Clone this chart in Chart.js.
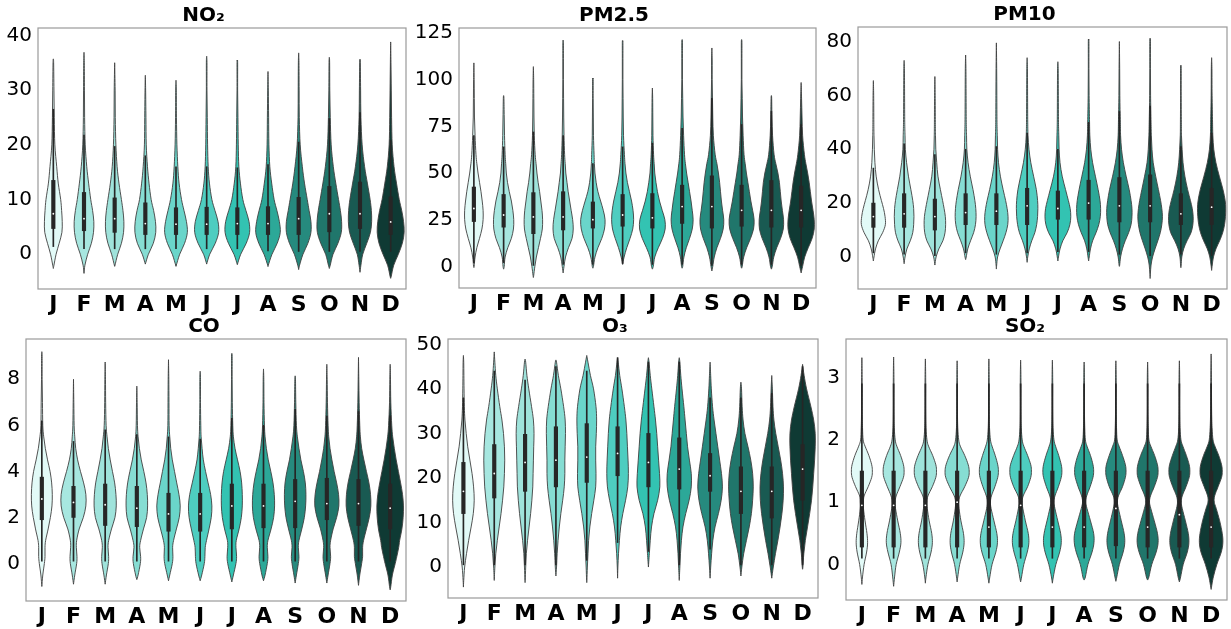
<!DOCTYPE html>
<html lang="en">
<head>
    <meta charset="UTF-8">
    <title>Monthly pollutant distributions</title>
    <style>
        body {
            margin: 0;
            background-color: #ffffff;
        }
        #wrap {
            position: relative;
            width: 1231px;
            height: 629px;
            overflow: hidden;
        }
        canvas {
            position: absolute;
        }
    </style>
</head>
<body>
<div id="wrap">
    <canvas id="no2"></canvas>
    <canvas id="pm25"></canvas>
    <canvas id="pm10"></canvas>
    <canvas id="co"></canvas>
    <canvas id="o3"></canvas>
    <canvas id="so2"></canvas>
</div>

<script src="https://cdn.jsdelivr.net/npm/chart.js"></script>
<script>
    const months = ['J', 'F', 'M', 'A', 'M', 'J', 'J', 'A', 'S', 'O', 'N', 'D'];
    const monthColors = ['#e2faf7', '#a7e7e0', '#9fe3db', '#86ddd3', '#6ad5ca', '#4ecdc0',
                         '#33c3b2', '#2ca898', '#268a7e', '#20766b', '#195a52', '#0f3a34'];

    // ---- NO2 ----
    const no2Ticks = [0, 10, 20, 30, 40];
    const no2Levels = [-4, -2, 0, 2, 4, 6, 8, 10, 13, 16, 20, 25, 30, 35];
    const no2Widths = [
        [null, 0.02, 0.09, 0.19, 0.28, 0.29, 0.27, 0.24, 0.16, 0.11, 0.05, 0.03, 0.02, 0.01],
        [null, 0.03, 0.12, 0.24, 0.31, 0.32, 0.28, 0.22, 0.15, 0.09, 0.04, 0.02, 0.015, 0.01],
        [null, 0.01, 0.10, 0.22, 0.29, 0.30, 0.27, 0.22, 0.14, 0.08, 0.04, 0.02, 0.015, null],
        [null, null, 0.10, 0.26, 0.34, 0.33, 0.27, 0.19, 0.12, 0.07, 0.03, 0.02, 0.01, null],
        [null, 0.01, 0.12, 0.28, 0.37, 0.34, 0.26, 0.18, 0.10, 0.06, 0.03, 0.015, 0.01, null],
        [null, null, 0.10, 0.28, 0.39, 0.37, 0.27, 0.17, 0.09, 0.05, 0.03, 0.02, 0.01, 0.01],
        [null, null, 0.11, 0.29, 0.40, 0.38, 0.28, 0.18, 0.10, 0.05, 0.03, 0.02, 0.01, 0.01],
        [null, 0.01, 0.13, 0.30, 0.40, 0.37, 0.29, 0.20, 0.12, 0.06, 0.03, 0.02, 0.01, null],
        [null, 0.03, 0.14, 0.30, 0.40, 0.40, 0.34, 0.28, 0.19, 0.12, 0.05, 0.02, 0.015, 0.01],
        [null, 0.03, 0.12, 0.28, 0.39, 0.40, 0.36, 0.30, 0.21, 0.13, 0.06, 0.03, 0.015, 0.01],
        [null, 0.03, 0.09, 0.22, 0.34, 0.38, 0.37, 0.33, 0.24, 0.15, 0.07, 0.03, 0.02, 0.01],
        [0.02, 0.10, 0.25, 0.38, 0.44, 0.42, 0.36, 0.28, 0.19, 0.11, 0.05, 0.03, 0.02, 0.01]
    ];
    const no2Lo = [-2.6, -3.5, -2.1, -1.8, -2.1, -1.8, -1.9, -2.2, -2.8, -2.6, -3.3, -4.4];
    const no2Hi = [35.7, 36.9, 35.0, 32.7, 31.8, 36.2, 35.3, 33.4, 36.8, 36.0, 35.6, 38.8];
    const no2Q1 = [4.7, 4.3, 4.0, 3.6, 3.6, 3.6, 3.6, 3.6, 3.6, 4.1, 4.7, 3.6];
    const no2Q3 = [13.5, 11.3, 10.3, 9.4, 8.5, 8.6, 8.5, 8.7, 10.4, 12.4, 13.2, 10.5];
    const no2Med = [7.4, 6.5, 6.5, 5.6, 5.5, 5.5, 5.6, 5.6, 6.5, 7.4, 7.4, 5.9];
    const no2WhisLo = [1.4, 1.0, 1.0, 1.0, 1.0, 1.0, 1.0, 0.6, 0.5, 0.5, 0.5, 0.5];
    const no2WhisHi = [26.5, 21.8, 19.7, 18.0, 16.0, 16.0, 15.8, 16.4, 20.5, 24.8, 25.9, 20.8];

    // ---- PM2.5 ----
    const pm25Ticks = [0, 25, 50, 75, 100, 125];
    const pm25Levels = [-5, 0, 5, 10, 15, 20, 25, 30, 35, 40, 45, 50, 55, 60, 70, 80, 90, 100, 110, 120];
    const pm25Widths = [
        [null, 0.01, 0.04, 0.10, 0.19, 0.27, 0.31, 0.31, 0.28, 0.24, 0.19, 0.14, 0.10, 0.07, 0.04, 0.02, 0.015, 0.01, null, null],
        [null, 0.02, 0.05, 0.14, 0.26, 0.33, 0.34, 0.31, 0.26, 0.19, 0.13, 0.09, 0.07, 0.05, 0.03, 0.02, 0.01, null, null, null],
        [0.01, 0.05, 0.10, 0.17, 0.24, 0.30, 0.31, 0.29, 0.25, 0.21, 0.16, 0.12, 0.09, 0.06, 0.03, 0.02, 0.015, 0.01, null, null],
        [null, 0.03, 0.08, 0.18, 0.30, 0.34, 0.32, 0.27, 0.22, 0.17, 0.13, 0.09, 0.07, 0.05, 0.03, 0.02, 0.015, 0.01, 0.01, 0.01],
        [null, 0.02, 0.07, 0.17, 0.30, 0.39, 0.41, 0.35, 0.26, 0.17, 0.11, 0.07, 0.05, 0.04, 0.02, 0.015, 0.01, 0.01, null, null],
        [null, null, 0.05, 0.14, 0.25, 0.34, 0.37, 0.35, 0.30, 0.23, 0.16, 0.11, 0.08, 0.06, 0.03, 0.02, 0.015, 0.01, 0.01, 0.01],
        [null, 0.03, 0.08, 0.20, 0.34, 0.43, 0.42, 0.33, 0.24, 0.17, 0.12, 0.08, 0.06, 0.04, 0.02, 0.015, 0.01, null, null, null],
        [null, 0.02, 0.06, 0.14, 0.25, 0.34, 0.37, 0.34, 0.30, 0.25, 0.20, 0.15, 0.11, 0.08, 0.05, 0.03, 0.02, 0.01, 0.01, 0.01],
        [null, 0.03, 0.08, 0.17, 0.29, 0.38, 0.40, 0.36, 0.32, 0.29, 0.26, 0.22, 0.17, 0.11, 0.05, 0.03, 0.02, 0.01, 0.01, null],
        [null, 0.02, 0.07, 0.17, 0.30, 0.40, 0.42, 0.37, 0.31, 0.26, 0.21, 0.16, 0.12, 0.08, 0.05, 0.03, 0.02, 0.01, 0.01, 0.01],
        [null, 0.03, 0.08, 0.18, 0.31, 0.40, 0.41, 0.37, 0.33, 0.30, 0.27, 0.22, 0.15, 0.09, 0.04, 0.02, 0.01, null, null, null],
        [null, 0.05, 0.12, 0.24, 0.37, 0.44, 0.44, 0.40, 0.35, 0.31, 0.27, 0.22, 0.16, 0.11, 0.05, 0.03, 0.015, null, null, null]
    ];
    const pm25Lo = [-0.5, -1.5, -6, -3.5, -1, 1, -1.5, -1, -2.5, -1, -1.5, -3.5];
    const pm25Hi = [109, 91.5, 107, 121, 100.5, 120.5, 95.5, 121.5, 117, 121.5, 91.5, 98.5];
    const pm25Q1 = [24, 21, 17.5, 19.5, 20.5, 21.5, 20.5, 23, 20.5, 21.5, 21, 21];
    const pm25Q3 = [42.5, 38.5, 39.5, 40, 34.5, 38.5, 39, 43.5, 48.5, 43.5, 46, 43];
    const pm25Med = [31, 27.5, 26.5, 26.5, 25, 27.5, 26, 32, 32, 30, 30, 30];
    const pm25WhisLo = [2, 2, 0.5, 1, 1, 1.5, 1, 1, 0.5, 1, 1, 0.5];
    const pm25WhisHi = [70, 64, 72, 70, 55, 64, 66, 74, 90, 76, 83, 76];

    // ---- PM10 ----
    const pm10Ticks = [0, 20, 40, 60, 80];
    const pm10Levels = [-6, -3, 0, 3, 6, 9, 12, 15, 18, 21, 25, 30, 35, 40, 45, 50, 60, 70, 80];
    const pm10Widths = [
        [null, null, 0.02, 0.07, 0.16, 0.30, 0.39, 0.38, 0.33, 0.26, 0.17, 0.09, 0.05, 0.03, 0.02, 0.015, 0.01, null, null],
        [null, null, 0.03, 0.09, 0.20, 0.28, 0.31, 0.32, 0.31, 0.28, 0.22, 0.14, 0.08, 0.04, 0.03, 0.02, 0.015, 0.01, null],
        [null, null, 0.04, 0.13, 0.26, 0.33, 0.35, 0.34, 0.30, 0.25, 0.18, 0.10, 0.06, 0.03, 0.02, 0.015, 0.01, null, null],
        [null, null, 0.02, 0.07, 0.16, 0.26, 0.32, 0.34, 0.33, 0.30, 0.24, 0.15, 0.08, 0.04, 0.03, 0.02, 0.015, 0.01, null],
        [null, 0.01, 0.04, 0.12, 0.22, 0.31, 0.37, 0.38, 0.35, 0.30, 0.22, 0.13, 0.07, 0.04, 0.03, 0.02, 0.015, 0.01, null],
        [null, null, 0.02, 0.07, 0.15, 0.25, 0.31, 0.34, 0.35, 0.34, 0.30, 0.21, 0.12, 0.06, 0.03, 0.02, 0.015, 0.01, null],
        [null, null, 0.02, 0.07, 0.16, 0.30, 0.39, 0.42, 0.40, 0.34, 0.25, 0.14, 0.07, 0.04, 0.03, 0.02, 0.015, 0.01, null],
        [null, null, 0.02, 0.06, 0.13, 0.24, 0.33, 0.38, 0.39, 0.37, 0.31, 0.22, 0.13, 0.07, 0.04, 0.03, 0.015, 0.01, 0.01],
        [null, 0.01, 0.04, 0.10, 0.19, 0.30, 0.38, 0.41, 0.41, 0.38, 0.32, 0.22, 0.13, 0.07, 0.04, 0.03, 0.015, 0.01, null],
        [0.01, 0.03, 0.08, 0.16, 0.25, 0.33, 0.38, 0.40, 0.38, 0.34, 0.27, 0.18, 0.10, 0.06, 0.04, 0.03, 0.015, 0.01, 0.01],
        [null, 0.01, 0.03, 0.09, 0.20, 0.33, 0.39, 0.40, 0.37, 0.31, 0.22, 0.13, 0.07, 0.04, 0.02, 0.015, 0.01, 0.01, null],
        [null, 0.02, 0.06, 0.14, 0.26, 0.36, 0.42, 0.45, 0.46, 0.44, 0.37, 0.25, 0.14, 0.07, 0.04, 0.03, 0.015, 0.01, null]
    ];
    const pm10Lo = [-1.5, -2.5, -3, -1, -4.5, -2, -1.5, -1.5, -3.5, -8, -4, -5];
    const pm10Hi = [65.5, 73, 67, 75, 79.5, 74, 72.5, 80.5, 80, 81, 71, 74];
    const pm10Q1 = [11, 11, 10, 12, 12, 12, 14, 14, 13, 13, 12, 12];
    const pm10Q3 = [20, 23.5, 21.5, 23.5, 23.5, 25.5, 24.5, 28.5, 29.5, 30.5, 23.5, 25.5];
    const pm10Med = [15, 16, 15, 16.5, 17, 19, 18, 20, 19, 19, 16, 18.5];
    const pm10WhisLo = [1.5, 1, 0.5, 1.5, 1, 1.5, 2, 2, 1, 0.5, 1, 0.5];
    const pm10WhisHi = [33, 42, 38, 40, 41, 46, 40, 50, 54, 56, 41, 46];

    // ---- CO ----
    const coTicks = [0, 2, 4, 6, 8];
    const coLevels = [-1, -0.5, 0, 0.3, 0.7, 1, 1.5, 2, 2.5, 3, 3.5, 4, 4.5, 5, 5.5, 6, 7, 8, 9];
    const coWidths = [
        [null, 0.03, 0.08, 0.10, 0.10, 0.12, 0.20, 0.27, 0.32, 0.33, 0.31, 0.26, 0.18, 0.11, 0.06, 0.03, 0.02, 0.01, 0.01],
        [null, 0.04, 0.10, 0.11, 0.09, 0.10, 0.18, 0.31, 0.39, 0.39, 0.32, 0.22, 0.13, 0.07, 0.04, 0.02, 0.01, null, null],
        [null, 0.04, 0.10, 0.11, 0.09, 0.11, 0.20, 0.31, 0.35, 0.34, 0.30, 0.23, 0.16, 0.10, 0.06, 0.03, 0.015, 0.01, null],
        [null, 0.04, 0.11, 0.12, 0.09, 0.12, 0.21, 0.31, 0.34, 0.33, 0.29, 0.22, 0.14, 0.08, 0.04, 0.02, 0.01, null, null],
        [null, 0.04, 0.12, 0.14, 0.13, 0.16, 0.25, 0.34, 0.37, 0.33, 0.26, 0.19, 0.12, 0.07, 0.04, 0.02, 0.015, 0.01, null],
        [null, 0.05, 0.13, 0.15, 0.16, 0.20, 0.28, 0.35, 0.37, 0.33, 0.25, 0.17, 0.10, 0.06, 0.03, 0.02, 0.01, 0.01, null],
        [null, 0.05, 0.13, 0.15, 0.13, 0.14, 0.23, 0.30, 0.33, 0.33, 0.31, 0.26, 0.18, 0.10, 0.05, 0.03, 0.015, 0.01, 0.01],
        [null, 0.05, 0.12, 0.14, 0.12, 0.14, 0.24, 0.32, 0.35, 0.34, 0.30, 0.23, 0.15, 0.09, 0.05, 0.03, 0.015, 0.01, null],
        [null, 0.04, 0.10, 0.12, 0.10, 0.12, 0.21, 0.29, 0.33, 0.34, 0.32, 0.26, 0.18, 0.12, 0.07, 0.04, 0.02, 0.01, null],
        [null, 0.04, 0.10, 0.12, 0.10, 0.12, 0.20, 0.31, 0.38, 0.37, 0.31, 0.23, 0.16, 0.10, 0.06, 0.04, 0.02, 0.01, null],
        [null, 0.04, 0.10, 0.13, 0.13, 0.16, 0.25, 0.34, 0.39, 0.38, 0.33, 0.25, 0.17, 0.10, 0.06, 0.04, 0.02, 0.01, null],
        [0.02, 0.07, 0.16, 0.21, 0.27, 0.30, 0.37, 0.41, 0.42, 0.39, 0.33, 0.26, 0.19, 0.13, 0.08, 0.05, 0.02, 0.01, null]
    ];
    const coLo = [-1, -0.9, -0.9, -0.7, -0.75, -0.75, -0.8, -0.75, -0.85, -0.85, -0.95, -1.15];
    const coHi = [9.2, 8, 8.75, 7.7, 8.85, 8.35, 9.1, 8.45, 8.15, 8.65, 8.95, 8.65];
    const coQ1 = [1.9, 2.0, 1.65, 1.6, 1.4, 1.4, 1.5, 1.55, 1.55, 1.9, 1.65, 1.5];
    const coQ3 = [3.75, 3.35, 3.45, 3.35, 3.05, 3.05, 3.45, 3.45, 3.65, 3.7, 3.65, 3.45];
    const coMed = [2.8, 2.65, 2.55, 2.4, 2.15, 2.15, 2.5, 2.5, 2.7, 2.6, 2.6, 2.4];
    const coWhisLo = [0.1, 0.1, 0.1, 0.1, 0.1, 0.1, 0.1, 0.1, 0.1, 0.1, 0.1, 0.1];
    const coWhisHi = [6.2, 5.3, 5.8, 5.6, 5.5, 5.4, 6.3, 6.0, 6.7, 6.4, 6.6, 6.4];

    // ---- O3 ----
    const o3Ticks = [0, 10, 20, 30, 40, 50];
    const o3Levels = [-3, 0, 3, 6, 9, 12, 15, 18, 21, 24, 27, 30, 33, 36, 40, 43, 46];
    const o3Widths = [
        [0.01, 0.04, 0.10, 0.17, 0.25, 0.32, 0.35, 0.33, 0.28, 0.21, 0.14, 0.09, 0.05, 0.03, 0.02, 0.015, 0.01],
        [null, 0.02, 0.05, 0.10, 0.16, 0.22, 0.27, 0.31, 0.33, 0.34, 0.33, 0.30, 0.25, 0.18, 0.10, 0.05, 0.02],
        [0.005, 0.02, 0.04, 0.08, 0.13, 0.18, 0.22, 0.25, 0.26, 0.27, 0.28, 0.29, 0.27, 0.21, 0.12, 0.06, 0.02],
        [null, 0.02, 0.04, 0.07, 0.11, 0.16, 0.22, 0.27, 0.29, 0.29, 0.30, 0.31, 0.30, 0.25, 0.16, 0.08, 0.02],
        [0.005, 0.02, 0.04, 0.06, 0.10, 0.16, 0.23, 0.29, 0.30, 0.29, 0.29, 0.31, 0.32, 0.30, 0.22, 0.12, 0.04],
        [null, 0.01, 0.03, 0.06, 0.10, 0.17, 0.26, 0.33, 0.35, 0.34, 0.32, 0.30, 0.27, 0.22, 0.14, 0.07, 0.02],
        [null, null, 0.03, 0.06, 0.10, 0.18, 0.30, 0.37, 0.36, 0.33, 0.30, 0.27, 0.23, 0.18, 0.11, 0.06, 0.02],
        [null, 0.02, 0.04, 0.07, 0.12, 0.21, 0.32, 0.39, 0.39, 0.33, 0.27, 0.23, 0.19, 0.15, 0.09, 0.05, 0.02],
        [null, 0.02, 0.05, 0.09, 0.16, 0.27, 0.36, 0.40, 0.37, 0.31, 0.25, 0.19, 0.13, 0.08, 0.04, 0.02, null],
        [null, 0.03, 0.09, 0.18, 0.27, 0.34, 0.38, 0.40, 0.38, 0.32, 0.23, 0.13, 0.07, 0.04, 0.02, null, null],
        [null, 0.05, 0.12, 0.20, 0.27, 0.33, 0.37, 0.38, 0.35, 0.29, 0.21, 0.13, 0.07, 0.04, 0.02, null, null],
        [null, 0.01, 0.04, 0.09, 0.16, 0.23, 0.29, 0.33, 0.36, 0.39, 0.41, 0.41, 0.36, 0.27, 0.13, 0.05, null]
    ];
    const o3Lo = [-4.5, -3, -3.5, -2, -3.5, -2.5, 0, -3, -2.5, -2, -2.5, -0.5];
    const o3Hi = [47.5, 48.3, 46.7, 46.5, 47.5, 47, 47, 47, 46, 41.5, 43, 45.5];
    const o3Q1 = [12, 15.5, 17, 18, 19, 20.5, 18, 17.5, 17, 12, 11, 15];
    const o3Q3 = [23.5, 27.5, 29.8, 31.5, 32.2, 31.5, 30, 29, 25.5, 22.5, 22.5, 27.5];
    const o3Med = [17, 21, 23.5, 24, 24.7, 25.5, 23.5, 22, 20.5, 17, 17, 22];
    const o3WhisLo = [0.5, 0.5, 0.5, 0.5, 1.5, 5.5, 3.5, 0.5, 4, 0.5, 0.5, 0.5];
    const o3WhisHi = [38, 44, 42, 45, 44, 47, 46, 46, 38, 38, 39, 45];

    // ---- SO2 ----
    const so2Ticks = [0, 1, 2, 3];
    const so2Levels = [-0.2, 0, 0.2, 0.35, 0.5, 0.7, 0.9, 1.0, 1.1, 1.25, 1.4, 1.5, 1.6, 1.75, 1.9, 2.0, 2.2, 2.5, 3.0];
    const so2Widths = [
        [0.02, 0.07, 0.15, 0.18, 0.16, 0.10, 0.05, 0.05, 0.07, 0.20, 0.31, 0.33, 0.31, 0.22, 0.10, 0.04, 0.02, 0.01, 0.01],
        [0.03, 0.08, 0.18, 0.23, 0.21, 0.13, 0.06, 0.05, 0.08, 0.20, 0.31, 0.33, 0.31, 0.22, 0.10, 0.05, 0.02, 0.01, 0.01],
        [0.02, 0.08, 0.18, 0.22, 0.20, 0.12, 0.06, 0.05, 0.08, 0.22, 0.33, 0.35, 0.33, 0.23, 0.10, 0.05, 0.02, 0.01, 0.01],
        [0.02, 0.08, 0.18, 0.22, 0.20, 0.12, 0.06, 0.05, 0.09, 0.24, 0.36, 0.38, 0.35, 0.24, 0.10, 0.05, 0.02, 0.01, 0.01],
        [0.03, 0.10, 0.22, 0.27, 0.25, 0.16, 0.07, 0.05, 0.08, 0.19, 0.28, 0.30, 0.28, 0.20, 0.10, 0.05, 0.02, 0.01, 0.01],
        [0.03, 0.10, 0.21, 0.26, 0.24, 0.15, 0.07, 0.05, 0.08, 0.22, 0.32, 0.34, 0.32, 0.22, 0.10, 0.05, 0.02, 0.01, 0.01],
        [0.03, 0.11, 0.23, 0.28, 0.26, 0.17, 0.08, 0.05, 0.08, 0.19, 0.28, 0.30, 0.28, 0.20, 0.10, 0.05, 0.02, 0.01, 0.01],
        [0.04, 0.12, 0.25, 0.31, 0.30, 0.20, 0.09, 0.05, 0.08, 0.19, 0.28, 0.30, 0.28, 0.20, 0.09, 0.04, 0.02, 0.01, 0.01],
        [0.03, 0.11, 0.23, 0.28, 0.26, 0.17, 0.08, 0.05, 0.08, 0.21, 0.30, 0.32, 0.30, 0.21, 0.10, 0.04, 0.02, 0.01, 0.01],
        [0.04, 0.13, 0.27, 0.33, 0.31, 0.21, 0.10, 0.06, 0.09, 0.21, 0.31, 0.33, 0.31, 0.22, 0.10, 0.04, 0.02, 0.01, 0.01],
        [0.04, 0.12, 0.25, 0.30, 0.28, 0.19, 0.09, 0.06, 0.09, 0.21, 0.31, 0.33, 0.31, 0.22, 0.11, 0.05, 0.02, 0.01, 0.01],
        [0.07, 0.18, 0.32, 0.37, 0.35, 0.27, 0.16, 0.10, 0.11, 0.22, 0.33, 0.35, 0.33, 0.24, 0.12, 0.06, 0.03, 0.015, 0.01]
    ];
    const so2Lo = [-0.32, -0.35, -0.3, -0.28, -0.3, -0.28, -0.3, -0.25, -0.27, -0.25, -0.28, -0.4];
    const so2Hi = [3.32, 3.33, 3.3, 3.27, 3.3, 3.28, 3.28, 3.25, 3.27, 3.25, 3.27, 3.38];
    const so2Q1 = [0.28, 0.28, 0.28, 0.28, 0.28, 0.28, 0.28, 0.28, 0.3, 0.28, 0.28, 0.28];
    const so2Q3 = [1.5, 1.5, 1.5, 1.5, 1.5, 1.5, 1.5, 1.5, 1.5, 1.5, 1.5, 1.5];
    const so2Med = [0.95, 0.95, 0.95, 1.0, 0.6, 0.95, 0.6, 0.6, 0.9, 0.6, 0.8, 0.6];
    const so2WhisLo = [0.1, 0.1, 0.1, 0.1, 0.1, 0.1, 0.1, 0.1, 0.1, 0.1, 0.1, 0.1];
    const so2WhisHi = [2.9, 2.9, 2.9, 2.9, 2.9, 2.9, 2.9, 2.9, 2.9, 2.9, 2.9, 2.9];

    Chart.defaults.font.family = "'DejaVu Sans', sans-serif";
    Chart.defaults.color = '#000000';

    // violin bodies, drawn under the box/whisker bars
    const violinPlugin = {
        id: 'violins',
        beforeDatasetsDraw(chart) {
            const v = chart.options.plugins.violins;
            const xs = chart.scales.x, ys = chart.scales.y;
            const ctx = chart.ctx;
            const band = xs.getPixelForValue(1) - xs.getPixelForValue(0);
            ctx.save();
            ctx.beginPath();
            ctx.rect(chart.chartArea.left, chart.chartArea.top, chart.chartArea.width, chart.chartArea.height);
            ctx.clip();
            months.forEach((m, i) => {
                const cx = xs.getPixelForValue(i);
                const prof = [[v.lo[i], 0]];
                v.levels.forEach((lev, k) => {
                    const w = v.widths[i][k];
                    if (w !== null && lev > v.lo[i] && lev < v.hi[i]) prof.push([lev, w]);
                });
                prof.push([v.hi[i], 0]);
                const right = prof.map(p => ({x: cx + p[1] * band, y: ys.getPixelForValue(p[0])}));
                const left = prof.map(p => ({x: cx - p[1] * band, y: ys.getPixelForValue(p[0])})).reverse();
                ctx.beginPath();
                ctx.moveTo(right[0].x, right[0].y);
                smoothTo(ctx, right, cx, 1);
                ctx.lineTo(left[0].x, left[0].y);
                smoothTo(ctx, left, cx, -1);
                ctx.closePath();
                ctx.fillStyle = monthColors[i];
                ctx.fill();
                ctx.lineWidth = 0.9;
                ctx.strokeStyle = '#404040';
                ctx.stroke();
            });
            ctx.restore();
        },
        afterDraw(chart) {
            const a = chart.chartArea;
            const ctx = chart.ctx;
            ctx.save();
            ctx.strokeStyle = '#9a9a9a';
            ctx.lineWidth = 1.2;
            ctx.strokeRect(a.left, a.top, a.width, a.height);
            ctx.restore();
        }
    };

    // catmull-rom through the outline points, kept on its own side of the centre
    function smoothTo(ctx, pts, cx, side) {
        for (let i = 0; i < pts.length - 1; i++) {
            const p0 = pts[Math.max(i - 1, 0)], p1 = pts[i], p2 = pts[i + 1], p3 = pts[Math.min(i + 2, pts.length - 1)];
            let c1x = p1.x + (p2.x - p0.x) / 6, c1y = p1.y + (p2.y - p0.y) / 6;
            let c2x = p2.x - (p3.x - p1.x) / 6, c2y = p2.y - (p3.y - p1.y) / 6;
            if ((c1x - cx) * side < 0) c1x = cx;
            if ((c2x - cx) * side < 0) c2x = cx;
            ctx.bezierCurveTo(c1x, c1y, c2x, c2y, p2.x, p2.y);
        }
    }

    function makePanel(id, title, box, yRange, ticks, d) {
        const canvas = document.getElementById(id);
        canvas.width = box.w;
        canvas.height = box.h;
        canvas.style.left = box.x + 'px';
        canvas.style.top = box.y + 'px';
        canvas.style.width = box.w + 'px';
        canvas.style.height = box.h + 'px';

        return new Chart(canvas.getContext('2d'), {
            type: 'bar',
            data: {
                labels: months,
                datasets: [{
                    type: 'line',
                    data: d.med,
                    showLine: false,
                    pointRadius: 0.9,
                    pointBorderWidth: 0,
                    pointBackgroundColor: '#ffffff',
                    order: 1
                }, {
                    data: months.map((m, i) => [d.q1[i], d.q3[i]]),
                    backgroundColor: '#262626',
                    barThickness: 3.5,
                    grouped: false,
                    order: 2
                }, {
                    data: months.map((m, i) => [d.wlo[i], d.whi[i]]),
                    backgroundColor: '#262626',
                    barThickness: 1,
                    grouped: false,
                    order: 3
                }]
            },
            options: {
                responsive: false,
                animation: false,
                layout: { padding: { left: 0, right: box.padR, top: 0, bottom: 0 } },
                plugins: {
                    legend: { display: false },
                    tooltip: { enabled: false },
                    title: {
                        display: true,
                        text: title,
                        color: '#000000',
                        font: { size: 20, weight: 'bold' },
                        padding: { top: 0, bottom: 0 }
                    },
                    violins: d
                },
                scales: {
                    x: {
                        type: 'category',
                        offset: true,
                        grid: { display: false, drawTicks: false },
                        border: { display: false },
                        ticks: {
                            autoSkip: false,
                            maxRotation: 0,
                            padding: 3,
                            color: '#000000',
                            font: { size: 22, weight: 'bold' }
                        },
                        afterFit: (s) => { s.height = box.xH; }
                    },
                    y: {
                        type: 'linear',
                        min: yRange[0],
                        max: yRange[1],
                        grid: { display: false, drawTicks: false },
                        border: { display: false },
                        ticks: { padding: 6, color: '#000000', font: { size: 20 } },
                        afterBuildTicks: (s) => { s.ticks = ticks.map(t => ({ value: t })); },
                        afterFit: (s) => { s.width = box.yW; }
                    }
                }
            },
            plugins: [violinPlugin]
        });
    }

    makePanel('no2', 'NO₂', { x: 0, y: 4, w: 410, h: 311, yW: 38, xH: 26, padR: 3 }, [-6.35, 41.35], no2Ticks,
        { levels: no2Levels, widths: no2Widths, lo: no2Lo, hi: no2Hi, q1: no2Q1, q3: no2Q3, med: no2Med, wlo: no2WhisLo, whi: no2WhisHi });
    makePanel('pm25', 'PM2.5', { x: 412, y: 4, w: 410, h: 311, yW: 47, xH: 27, padR: 6 }, [-11.6, 127.7], pm25Ticks,
        { levels: pm25Levels, widths: pm25Widths, lo: pm25Lo, hi: pm25Hi, q1: pm25Q1, q3: pm25Q3, med: pm25Med, wlo: pm25WhisLo, whi: pm25WhisHi });
    makePanel('pm10', 'PM10', { x: 822, y: 3, w: 409, h: 312, yW: 36, xH: 26, padR: 4 }, [-11.9, 85.4], pm10Ticks,
        { levels: pm10Levels, widths: pm10Widths, lo: pm10Lo, hi: pm10Hi, q1: pm10Q1, q3: pm10Q3, med: pm10Med, wlo: pm10WhisLo, whi: pm10WhisHi });
    makePanel('co', 'CO', { x: 0, y: 315, w: 410, h: 314, yW: 26, xH: 28, padR: 2 }, [-1.63, 9.75], coTicks,
        { levels: coLevels, widths: coWidths, lo: coLo, hi: coHi, q1: coQ1, q3: coQ3, med: coMed, wlo: coWhisLo, whi: coWhisHi });
    makePanel('o3', 'O₃', { x: 412, y: 315, w: 410, h: 314, yW: 36, xH: 31, padR: 4 }, [-6.95, 51.2], o3Ticks,
        { levels: o3Levels, widths: o3Widths, lo: o3Lo, hi: o3Hi, q1: o3Q1, q3: o3Q3, med: o3Med, wlo: o3WhisLo, whi: o3WhisHi });
    makePanel('so2', 'SO₂', { x: 822, y: 315, w: 409, h: 314, yW: 24, xH: 29, padR: 3 }, [-0.57, 3.62], so2Ticks,
        { levels: so2Levels, widths: so2Widths, lo: so2Lo, hi: so2Hi, q1: so2Q1, q3: so2Q3, med: so2Med, wlo: so2WhisLo, whi: so2WhisHi });
</script>
</body>
</html>
